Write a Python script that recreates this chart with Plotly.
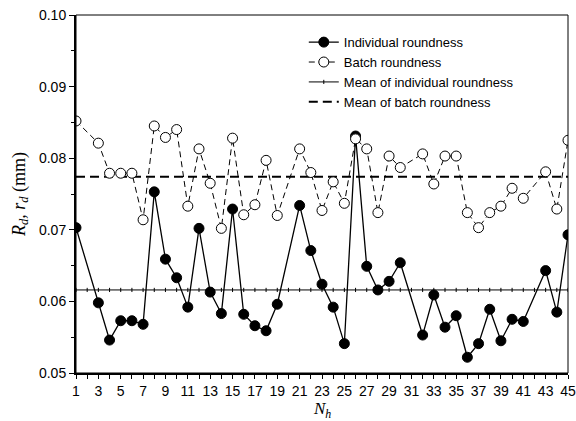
import plotly.graph_objects as go

# Sample index (N_h) – samples 2, 20, 31, 42 are absent in the reference
n_h = [1, 3, 4, 5, 6, 7, 8, 9, 10, 11, 12, 13, 14, 15, 16, 17, 18, 19,
       21, 22, 23, 24, 25, 26, 27, 28, 29, 30,
       32, 33, 34, 35, 36, 37, 38, 39, 40, 41,
       43, 44, 45]

individual = [0.0703, 0.0598, 0.0546, 0.0573, 0.0573, 0.0568, 0.0753, 0.0659,
              0.0633, 0.0592, 0.0702, 0.0613, 0.0583, 0.0729, 0.0582, 0.0566,
              0.0559, 0.0596,
              0.0734, 0.0671, 0.0624, 0.0592, 0.0541, 0.0831, 0.0649, 0.0616,
              0.0628, 0.0654,
              0.0553, 0.0609, 0.0564, 0.0580, 0.0522, 0.0541, 0.0589, 0.0545,
              0.0575, 0.0572,
              0.0643, 0.0585, 0.0693]

batch = [0.0852, 0.0821, 0.0779, 0.0779, 0.0779, 0.0714, 0.0845, 0.0829,
         0.0840, 0.0733, 0.0813, 0.0765, 0.0702, 0.0828, 0.0721, 0.0735,
         0.0797, 0.0720,
         0.0813, 0.0780, 0.0727, 0.0767, 0.0737, 0.0827, 0.0813, 0.0724,
         0.0803, 0.0787,
         0.0806, 0.0764, 0.0803, 0.0803, 0.0724, 0.0703, 0.0724, 0.0733,
         0.0758, 0.0744,
         0.0781, 0.0729, 0.0825]

mean_individual = 0.0616
mean_batch = 0.0774

x_full = list(range(1, 46))
x_tick_vals = list(range(1, 46, 2))
x_tick_text = [str(v) for v in x_tick_vals]
y_tick_vals = [0.05, 0.06, 0.07, 0.08, 0.09, 0.10]
y_tick_text = ["0.05", "0.06", "0.07", "0.08", "0.09", "0.10"]

fig = go.Figure()

# mean lines drawn first (below markers)
fig.add_trace(go.Scatter(
    x=x_full, y=[mean_individual] * len(x_full),
    mode="lines+markers", name="Mean of individual roundness",
    line=dict(color="black", width=1),
    marker=dict(symbol="line-ns", size=3, line=dict(color="black", width=1)),
    legendrank=3,
))
fig.add_trace(go.Scatter(
    x=[1, 45], y=[mean_batch, mean_batch],
    mode="lines", name="Mean of batch roundness",
    line=dict(color="black", width=2, dash="9px,5px"),
    legendrank=4,
))
fig.add_trace(go.Scatter(
    x=n_h, y=individual, mode="lines+markers", name="Individual roundness",
    line=dict(color="black", width=1.3),
    marker=dict(symbol="circle", size=10, color="black",
                line=dict(color="black", width=1)),
    legendrank=1,
))
fig.add_trace(go.Scatter(
    x=n_h, y=batch, mode="lines+markers", name="Batch roundness",
    line=dict(color="black", width=1, dash="6px,4px"),
    marker=dict(symbol="circle", size=10, color="white",
                line=dict(color="black", width=1)),
    legendrank=2,
))

fig.update_layout(
    width=576, height=421,
    margin=dict(l=76, r=8, t=15, b=48, autoexpand=False),
    paper_bgcolor="white", plot_bgcolor="white",
    font=dict(family="Liberation Sans, Arial, sans-serif", size=14, color="black"),
    showlegend=True,
    legend=dict(x=0.463, y=0.966, xanchor="left", yanchor="top",
                bgcolor="rgba(0,0,0,0)", borderwidth=0,
                font=dict(size=13, family="Liberation Sans, Arial, sans-serif"),
                tracegroupgap=0),
    shapes=[dict(type="rect", xref="paper", yref="paper", x0=0, x1=1, y0=0, y1=1,
                 line=dict(color="black", width=1), layer="above")],
    annotations=[dict(text="<i>N<sub>h</sub></i>", xref="paper", yref="paper",
                      x=0.5, y=-0.102, xanchor="center", yanchor="middle",
                      showarrow=False,
                      font=dict(family="Liberation Serif, Times New Roman, serif",
                                size=17, color="black"))],
)

fig.update_xaxes(
    range=[1, 45], tickmode="array", tickvals=x_tick_vals, ticktext=x_tick_text,
    ticks="outside", ticklen=4, tickwidth=1, tickcolor="black",
    minor=dict(dtick=1, tick0=1, ticks="outside", ticklen=4, tickwidth=1,
               tickcolor="black", showgrid=False),
    showline=True, linewidth=2, linecolor="black", showgrid=False, zeroline=False,
)
fig.update_yaxes(
    range=[0.05, 0.10], tickmode="array", tickvals=y_tick_vals, ticktext=y_tick_text,
    ticks="outside", ticklen=5, tickwidth=1, tickcolor="black",
    minor=dict(dtick=0.005, tick0=0.05, ticks="outside", ticklen=3, tickwidth=1,
               tickcolor="black", showgrid=False),
    showline=True, linewidth=2, linecolor="black", showgrid=False, zeroline=False,
    title=dict(text="<i>R<sub>d</sub>, r<sub>d</sub></i> (mm)",
               font=dict(family="Liberation Serif, Times New Roman, serif", size=18),
               standoff=9),
)

fig.write_html("out.html", config={"displayModeBar": False},
               post_script="document.body.style.margin='0';document.body.style.overflow='hidden';")
